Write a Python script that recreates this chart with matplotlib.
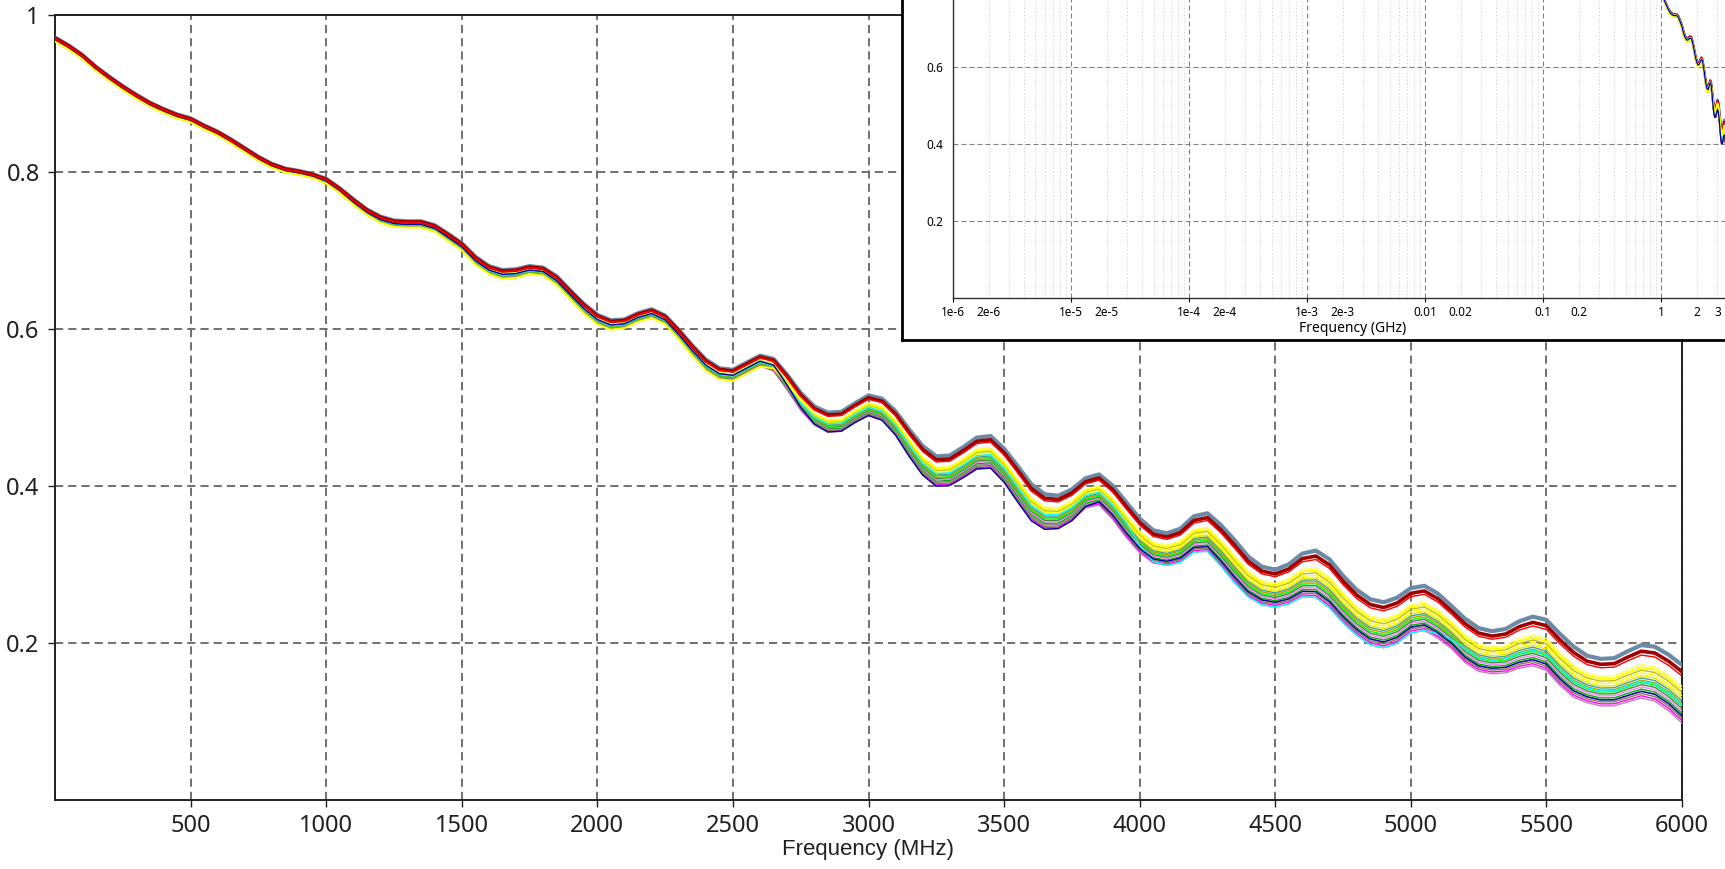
import numpy as np
import matplotlib
matplotlib.use("Agg")
import matplotlib.pyplot as plt
from matplotlib.ticker import FixedLocator, FixedFormatter, NullLocator

NARROW = ["Noto Sans", "Liberation Sans", "DejaVu Sans"]
REGULAR = ["Liberation Sans", "DejaVu Sans"]
plt.rcParams["font.family"] = NARROW
plt.rcParams["font.stretch"] = "condensed"

# sweep points (MHz)
freq_mhz = np.arange(0, 6001, 50)

# upper edge of the bundle of traces, read every 50 MHz
top_trace = [
    0.972, 0.962, 0.950, 0.935, 0.922, 0.910, 0.899, 0.889, 0.881, 0.874,
    0.869, 0.860, 0.852, 0.842, 0.831, 0.820, 0.811, 0.805, 0.802, 0.798,
    0.792, 0.780, 0.766, 0.753, 0.744, 0.739, 0.738, 0.738, 0.733, 0.722,
    0.710, 0.693, 0.681, 0.676, 0.677, 0.681, 0.679, 0.668, 0.650, 0.633,
    0.619, 0.612, 0.613, 0.621, 0.626, 0.618, 0.600, 0.580, 0.562, 0.551,
    0.549, 0.558, 0.567, 0.563, 0.543, 0.520, 0.503, 0.495, 0.496, 0.507,
    0.517, 0.513, 0.497, 0.474, 0.453, 0.440, 0.441, 0.452, 0.464, 0.466,
    0.450, 0.428, 0.405, 0.392, 0.390, 0.398, 0.412, 0.417, 0.403, 0.382,
    0.361, 0.346, 0.342, 0.348, 0.364, 0.368, 0.353, 0.334, 0.313, 0.300,
    0.296, 0.303, 0.317, 0.321, 0.310, 0.289, 0.271, 0.259, 0.255, 0.261,
    0.273, 0.276, 0.266, 0.250, 0.234, 0.222, 0.218, 0.221, 0.231, 0.237,
    0.233, 0.215, 0.199, 0.187, 0.183, 0.184, 0.193, 0.201, 0.199, 0.189,
    0.176,
]

# distance from the upper edge down to the lowest trace
band_depth = [
    0.005, 0.005, 0.005, 0.005, 0.005, 0.005, 0.005, 0.005, 0.005, 0.005,
    0.005, 0.005, 0.005, 0.005, 0.005, 0.005, 0.005, 0.005, 0.005, 0.005,
    0.006, 0.006, 0.007, 0.007, 0.008, 0.008, 0.008, 0.008, 0.008, 0.009,
    0.009, 0.010, 0.010, 0.011, 0.011, 0.010, 0.010, 0.011, 0.011, 0.012,
    0.012, 0.012, 0.011, 0.011, 0.011, 0.011, 0.012, 0.013, 0.014, 0.014,
    0.014, 0.014, 0.014, 0.016, 0.020, 0.023, 0.025, 0.026, 0.026, 0.026,
    0.027, 0.029, 0.032, 0.036, 0.039, 0.040, 0.040, 0.041, 0.042, 0.043,
    0.045, 0.048, 0.049, 0.047, 0.044, 0.042, 0.040, 0.041, 0.045, 0.047,
    0.046, 0.044, 0.043, 0.045, 0.048, 0.051, 0.055, 0.057, 0.054, 0.051,
    0.050, 0.053, 0.058, 0.063, 0.065, 0.063, 0.061, 0.061, 0.061, 0.061,
    0.060, 0.060, 0.060, 0.057, 0.059, 0.058, 0.057, 0.059, 0.063, 0.066,
    0.068, 0.069, 0.068, 0.063, 0.063, 0.064, 0.068, 0.071, 0.073, 0.075,
    0.078,
]

# lower traces: colour and where each sits inside the band (0 = top, 1 = bottom)
trace_colors = [
    "#c080c0", "#ff00ff", "#8a7a50", "#909090", "#00b000", "#ff80ff",
    "#508050", "#00ff00", "#b0a000", "#40a0a0", "#e8e800", "#ffff00",
    "#c0c000", "#ffff60",
]
trace_rank = [
    1.00, 0.96, 0.92, 0.88, 0.84, 0.80,
    0.76, 0.72, 0.68, 0.64, 0.60, 0.55,
    0.50, 0.40,
]

# traces that change place in the bundle
blue_rank = [0.55] * 54 + [0.7, 0.85, 0.95] + [1.0] * 19 + [0.95, 0.9] + [0.88] * 43
cyan_rank = [0.6] * 80 + [0.8, 0.95] + [1.0] * 20 + [0.9, 0.8] + [0.7] * 17
yellow_rank = [1.05] * 53 + [0.8, 0.6] + [0.45] * 66

# top of the bundle
upper_colors = ["#6b8aa6", "#a00000", "#ff0000"]
upper_rank = [0.05, 0.16, 0.23]

x_ticks = [500, 1000, 1500, 2000, 2500, 3000, 3500, 4000, 4500, 5000, 5500, 6000]
y_ticks = [0.2, 0.4, 0.6, 0.8, 1.0]
y_labels = ["0.2", "0.4", "0.6", "0.8", "1"]

inset_decades = [1e-6, 1e-5, 1e-4, 1e-3, 0.01, 0.1, 1.0]
inset_decade_labels = ["1e-6", "1e-5", "1e-4", "1e-3", "0.01", "0.1", "1"]
inset_two_labels = ["2e-6", "2e-5", "2e-4", "2e-3", "0.02", "0.2", "2"]
inset_y_ticks = [0.2, 0.4, 0.6]
inset_y_labels = ["0.2", "0.4", "0.6"]

top = np.array(top_trace)
depth = np.array(band_depth)

W, H = 1725, 869
fig = plt.figure(figsize=(W / 100, H / 100), dpi=100)
fig.patch.set_facecolor("white")

grid_kw = dict(color="#707070", linewidth=1.4, linestyle=(0, (4.2, 2.6)))


def draw_traces(ax, x, sl, lw_thin, lw_dark, lw_slate, upper_first=False):
    z_up = 2.9 if upper_first else 4
    for c, r in zip(trace_colors, trace_rank):
        ax.plot(x, (top - r * depth)[sl], color=c, lw=lw_thin, zorder=3)
    ax.plot(x, (top - np.array(cyan_rank) * depth)[sl], color="#00ffff", lw=lw_thin, zorder=3)
    ax.plot(x, (top - np.array(yellow_rank) * depth)[sl], color="#ffff00",
            lw=lw_thin * 1.4, zorder=3)
    ax.plot(x, (top - np.array(blue_rank) * depth)[sl], color="#0000a0", lw=lw_thin, zorder=3)
    widths = [lw_slate, lw_dark, lw_thin]
    for c, r, w in zip(upper_colors, upper_rank, widths):
        ax.plot(x, (top - r * depth)[sl], color=c, lw=w, zorder=z_up)


# ---- main plot
ax = fig.add_axes([55 / W, 69 / H, 1627 / W, 784.6 / H])
ax.set_xlim(0, 6000)
ax.set_ylim(0, 1)
ax.set_xticks(x_ticks)
ax.set_xticklabels([str(t) for t in x_ticks])
ax.set_yticks(y_ticks)
ax.set_yticklabels(y_labels)
ax.tick_params(direction="out", length=5, width=1, labelsize=17, pad=5,
               color="#202020", labelcolor="#202020")
ax.tick_params(axis="y", pad=6)
ax.set_axisbelow(True)
ax.grid(True, **grid_kw)
for s in ax.spines.values():
    s.set_linewidth(1.4)
    s.set_color("#202020")
draw_traces(ax, freq_mhz, slice(None), 1.0, 2.6, 3.0)
ax.set_xlabel("Frequency (MHz)", fontsize=16, family=REGULAR, stretch="normal",
              labelpad=1, color="#202020")

# ---- inset window (runs off the top right corner)
box = fig.add_axes([902 / W, (H - 340) / H, 1.0, 1.0], zorder=5)
box.set_xticks([])
box.set_yticks([])
box.set_facecolor("white")
for s in box.spines.values():
    s.set_linewidth(2.0)
    s.set_color("black")

ins = fig.add_axes([953 / W, (H - 298) / H, 800 / W, 385 / H], zorder=6)
ins.patch.set_alpha(0)
ins.set_xscale("log")
ins.set_xlim(1e-6, 6.0)
ins.set_ylim(0, 1)

minor_vals, minor_labs = [], []
for k, e in enumerate(range(-6, 1)):
    for m in range(2, 10):
        minor_vals.append(m * 10.0 ** e)
        if m == 2:
            minor_labs.append(inset_two_labels[k])
        elif m == 3 and e == 0:
            minor_labs.append("3")
        else:
            minor_labs.append("")

ins.xaxis.set_major_locator(FixedLocator(inset_decades))
ins.xaxis.set_major_formatter(FixedFormatter(inset_decade_labels))
ins.xaxis.set_minor_locator(FixedLocator(minor_vals))
ins.xaxis.set_minor_formatter(FixedFormatter(minor_labs))
ins.set_yticks(inset_y_ticks)
ins.set_yticklabels(inset_y_labels)
ins.yaxis.set_minor_locator(NullLocator())
ins.tick_params(axis="x", which="major", length=3, width=0.8, pad=3, labelsize=8.5)
ins.tick_params(axis="x", which="minor", length=0, pad=6, labelsize=8.5)
ins.tick_params(axis="y", length=0, pad=7, labelsize=8.5)
ins.grid(True, which="major", color="#808080", linewidth=0.8,
         linestyle=(0, (4.5, 2.7)))
ins.grid(True, which="minor", axis="x", color="#c8c8c8", linewidth=0.7,
         linestyle=(0, (1, 2.5)))
ins.set_axisbelow(True)
for s in ins.spines.values():
    s.set_linewidth(1.0)
    s.set_color("#303030")
# 0 MHz has no place on the log axis
draw_traces(ins, freq_mhz[1:] / 1000.0, slice(1, None), 0.9, 1.2, 1.6, upper_first=True)
ins.set_xlabel("Frequency (GHz)", fontsize=10, labelpad=1)

fig.savefig("out.png", dpi=100, facecolor="white")
